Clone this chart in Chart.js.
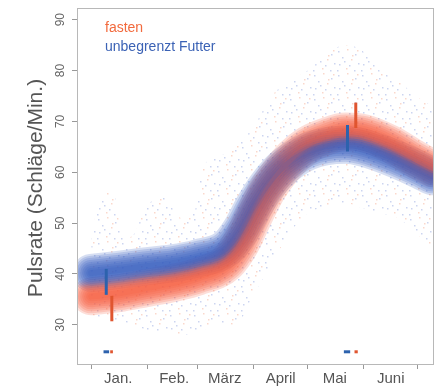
<!DOCTYPE html>
<html>
<head>
<meta charset="utf-8">
<script src="https://cdn.jsdelivr.net/npm/chart.js@4/dist/chart.umd.min.js"></script>
<style>
  html, body { margin: 0; padding: 0; background: #fff; }
  #wrap { width: 446px; height: 389px; }
</style>
</head>
<body>
<div id="wrap"><canvas id="chart" width="446" height="389"></canvas></div>
<script>
// ===== Data (days since 1 Jan) =====
const months = ['Jan.', 'Feb.', 'März', 'April', 'Mai', 'Juni'];
const monthStarts = [0, 31, 59, 90, 120, 151, 181];
const yTicks = [30, 40, 50, 60, 70, 80, 90];

// fitted pulse rate
const days = [0, 15, 30, 45, 59, 75, 83, 90, 97, 104, 112, 120, 130, 141, 151, 165, 180, 189];
const futterPuls = [40.2, 40.8, 41.5, 42.1, 43.1, 45.1, 48.7, 53.3, 57.2, 60.2, 62.5, 64.1, 65.1, 65.4, 64.8, 63.1, 60.8, 59.2];
const fastenPuls = [35.6, 36.2, 37.2, 38.2, 39.5, 42.1, 46.1, 51.3, 56.2, 59.8, 63.1, 65.4, 67.0, 68.0, 67.7, 65.7, 62.5, 60.8];

// spread of the raw measurements
const cloudDays = [0, 5, 12, 18, 24, 30, 40, 50, 57, 62, 70, 80, 90, 100, 110, 120, 130, 140, 150, 160, 170, 180, 189];
const cloudTop = [47, 55, 56, 47, 48, 53, 55, 51, 52, 61, 63, 65, 69, 75, 78, 80, 83, 85, 84, 80, 78, 75, 73];
const cloudLow = [32, 31.5, 31, 30.5, 30, 29, 28.5, 28, 28.5, 29, 30, 30, 36, 42, 48, 52, 53, 54, 53, 52, 51, 48, 45];

// minimum / maximum markers
const futterBarDays = [8.3, 142];
const futterBarLow = [35.9, 64.1];
const futterBarHigh = [41.0, 69.3];
const fastenBarDays = [11.4, 146.6];
const fastenBarLow = [30.7, 68.7];
const fastenBarHigh = [35.7, 73.7];
const markY = 24.7;
const futterMarkStart = [6.8, 140];
const futterMarkEnd = [9.9, 143.5];
const fastenMarkStart = [10.5, 145.9];
const fastenMarkEnd = [12.0, 147.7];

// ===== Colours =====
const BLUE = [48, 88, 192];
const ORANGE = [243, 90, 58];
const rgba = (c, a) => `rgba(${c[0]},${c[1]},${c[2]},${a})`;

// speckle texture for the raw-measurement cloud
const speckleDots = [[2, 3], [11, 1], [19, 6], [6, 9], [15, 11], [22, 15], [3, 16], [10, 20], [18, 22], [8, 13], [21, 2], [13, 17], [1, 22], [16, 7]];
function speckle() {
    const c = document.createElement('canvas');
    c.width = 24; c.height = 24;
    const g = c.getContext('2d');
    speckleDots.forEach(([x, y], i) => {
        g.fillStyle = i % 3 === 1 ? 'rgba(240,125,85,0.3)' : 'rgba(85,115,205,0.3)';
        g.fillRect(x, y, 1.5, 1.5);
    });
    return g.createPattern(c, 'repeat');
}

const pts = (xs, ys) => xs.map((x, i) => ({ x: x, y: ys[i] }));

const datasets = [];

// markers on top
futterBarDays.forEach((d, i) => {
    datasets.push({ data: [{ x: d, y: futterBarLow[i] }, { x: d, y: futterBarHigh[i] }],
        borderColor: '#2d62ad', borderWidth: 3, pointRadius: 0 });
    datasets.push({ data: [{ x: futterMarkStart[i], y: markY }, { x: futterMarkEnd[i], y: markY }],
        borderColor: '#2d62ad', borderWidth: 3, pointRadius: 0 });
});
fastenBarDays.forEach((d, i) => {
    datasets.push({ data: [{ x: d, y: fastenBarLow[i] }, { x: d, y: fastenBarHigh[i] }],
        borderColor: '#e0552f', borderWidth: 3, pointRadius: 0 });
    datasets.push({ data: [{ x: fastenMarkStart[i], y: markY }, { x: fastenMarkEnd[i], y: markY }],
        borderColor: '#e0552f', borderWidth: 3, pointRadius: 0 });
});

// bands: many translucent strokes build a soft gradient
for (let w = 6; w <= 38; w += 4) {
    [[futterPuls, BLUE], [fastenPuls, ORANGE]].forEach(([vals, col]) => {
        datasets.push({
            data: pts(days, vals),
            borderColor: rgba(col, 0.2),
            borderWidth: w,
            borderJoinStyle: 'round',
            borderCapStyle: 'round',
            pointRadius: 0,
            cubicInterpolationMode: 'monotone',
            fill: false
        });
    });
}

// raw measurement cloud
datasets.push({
    data: pts(cloudDays, cloudTop),
    borderColor: 'rgba(0,0,0,0)', borderWidth: 0, pointRadius: 0,
    cubicInterpolationMode: 'monotone',
    fill: '+1', backgroundColor: speckle()
});
datasets.push({
    data: pts(cloudDays, cloudLow),
    borderColor: 'rgba(0,0,0,0)', borderWidth: 0, pointRadius: 0,
    cubicInterpolationMode: 'monotone',
    fill: false
});

// ===== Custom drawing: frame, y labels, title, legend =====
const decor = {
    id: 'decor',
    afterDraw(chart) {
        const { ctx, chartArea: a, scales: { y } } = chart;
        ctx.save();
        ctx.strokeStyle = '#b8b8b8';
        ctx.lineWidth = 1;
        ctx.strokeRect(a.left + 0.5, a.top + 0.5, a.right - a.left, a.bottom - a.top);

        ctx.fillStyle = '#666';
        ctx.font = '12px "Liberation Sans", Arial, sans-serif';
        ctx.textAlign = 'center';
        ctx.textBaseline = 'middle';
        yTicks.forEach(v => {
            ctx.save();
            ctx.translate(61, y.getPixelForValue(v));
            ctx.rotate(-Math.PI / 2);
            ctx.fillText(String(v), 0, 0);
            ctx.restore();
        });

        ctx.save();
        ctx.fillStyle = '#555';
        ctx.font = '21px "Liberation Sans", Arial, sans-serif';
        ctx.translate(36, (a.top + a.bottom) / 2 + 2);
        ctx.rotate(-Math.PI / 2);
        ctx.fillText('Pulsrate (Schläge/Min.)', 0, 0);
        ctx.restore();

        ctx.textAlign = 'left';
        ctx.font = '14px "Liberation Sans", Arial, sans-serif';
        ctx.fillStyle = '#f26a3d';
        ctx.fillText('fasten', 105, 28);
        ctx.fillStyle = '#3b62b5';
        ctx.fillText('unbegrenzt Futter', 105, 47);
        ctx.restore();
    }
};

new Chart(document.getElementById('chart'), {
    type: 'line',
    data: { datasets: datasets },
    options: {
        responsive: false,
        animation: false,
        events: [],
        layout: { padding: { top: 8, right: 13, left: 0, bottom: 0 } },
        plugins: { legend: { display: false }, tooltip: { enabled: false } },
        scales: {
            x: {
                type: 'linear',
                min: -7.9,
                max: 189.4,
                afterBuildTicks: s => { s.ticks = monthStarts.map(v => ({ value: v })); },
                afterFit: s => { s.height = 25; },
                grid: { drawOnChartArea: false, tickLength: 5, color: '#999' },
                border: { color: '#b8b8b8' },
                ticks: {
                    autoSkip: false,
                    maxRotation: 0,
                    padding: 1,
                    labelOffset: 27,
                    color: '#555',
                    font: { size: 15, family: '"Liberation Sans", Arial, sans-serif' },
                    callback: (v, i) => months[i] || ''
                }
            },
            y: {
                min: 22.3,
                max: 92.3,
                afterBuildTicks: s => { s.ticks = yTicks.map(v => ({ value: v })); },
                afterFit: s => { s.width = 77; },
                grid: { drawOnChartArea: false, tickLength: 5, color: '#999' },
                border: { color: '#b8b8b8' },
                ticks: { display: false }
            }
        }
    },
    plugins: [decor]
});
</script>
</body>
</html>
